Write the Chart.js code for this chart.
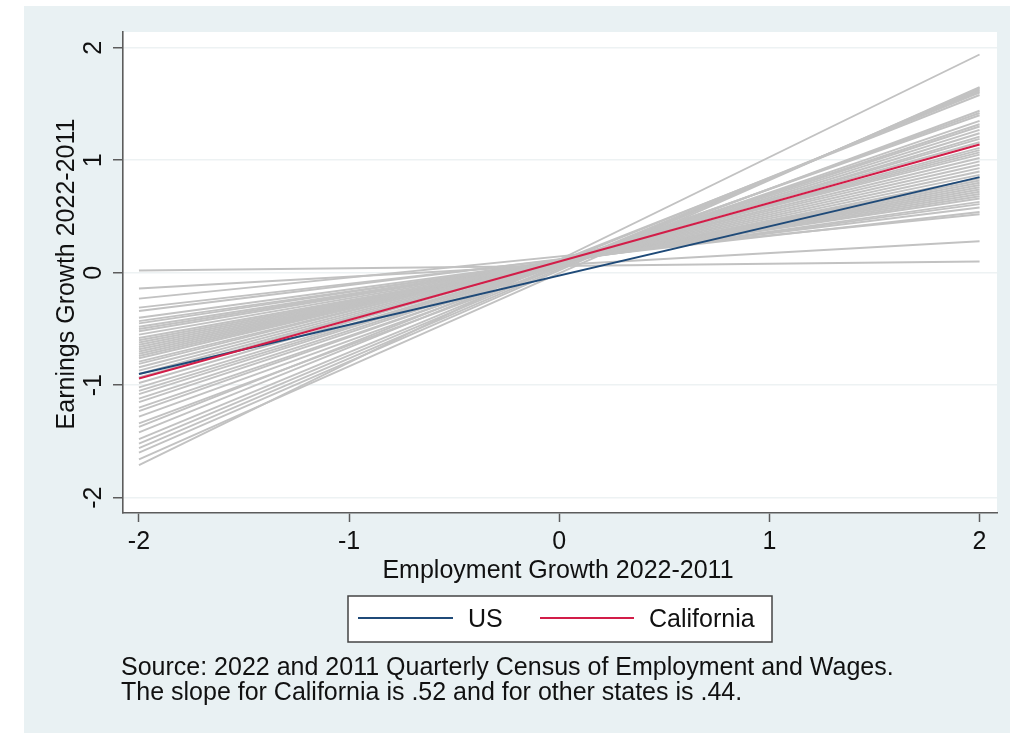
<!DOCTYPE html>
<html>
<head>
<meta charset="utf-8">
<script src="https://cdn.jsdelivr.net/npm/chart.js@4.4.1/dist/chart.umd.min.js"></script>
<style>
  html, body { margin: 0; padding: 0; background: #ffffff; }
  #wrap { width: 1010px; height: 733px; position: relative; }
</style>
</head>
<body>
<div id="wrap"><canvas id="chart" width="1010" height="733"></canvas></div>
<script>
// values: each state line from x=-2 to x=2
const xEnds = [-2, 2];
const stateLeft = [0.02, -0.14, -0.23, -0.31, -0.34, -0.40, -0.43, -0.45, -0.48, -0.50,
  -0.52, -0.55, -0.58, -0.60, -0.62, -0.64, -0.66, -0.68, -0.70, -0.72,
  -0.74, -0.76, -0.79, -0.81, -0.84, -0.87, -0.90, -0.93, -0.98, -1.02,
  -1.05, -1.08, -1.12, -1.15, -1.20, -1.23, -1.28, -1.34, -1.37, -1.42,
  -1.48, -1.52, -1.56, -1.60, -1.66, -1.71];
const stateRight = [0.10, 0.28, 0.52, 0.54, 0.58, 0.61, 0.63, 0.66, 0.68, 0.70,
  0.72, 0.74, 0.76, 0.78, 0.80, 0.82, 0.84, 0.87, 0.90, 0.93,
  0.96, 0.99, 1.02, 1.05, 1.07, 1.09, 1.11, 1.16, 1.19, 1.21,
  1.24, 1.27, 1.30, 1.32, 1.35, 1.40, 1.42, 1.44, 1.58, 1.60,
  1.61, 1.62, 1.63, 1.64, 1.65, 1.94];
const usEnds = [-0.90, 0.85];
const caEnds = [-0.94, 1.14];
const xTicks = [-2, -1, 0, 1, 2];
const yTicks = [-2, -1, 0, 1, 2];
const xTitle = "Employment Growth 2022-2011";
const yTitle = "Earnings Growth 2022-2011";
const noteLines = [
  "Source: 2022 and 2011 Quarterly Census of Employment and Wages.",
  "The slope for California is .52 and for other states is .44."
];

const PANEL = "#e9f1f3";
const INK = "#111111";
const AXIS = "#5c5c5c";
const FONT = '"Liberation Sans", Arial, sans-serif';
const FS = 25;

function pts(ends) {
  return xEnds.map((x, i) => ({ x: x, y: ends[i] }));
}

const datasets = [];
// lower order is drawn on top
datasets.push({ label: "US", data: pts(usEnds), borderColor: "#1f4a78", borderWidth: 2, showLine: true, pointRadius: 0, inLegend: true, order: 1 });
datasets.push({ label: "California", data: pts(caEnds), borderColor: "#d21d48", borderWidth: 2, showLine: true, pointRadius: 0, inLegend: true, order: 0 });
for (let i = 0; i < stateLeft.length; i++) {
  datasets.push({
    label: "state" + i,
    data: pts([stateLeft[i], stateRight[i]]),
    borderColor: "#c2c2c2",
    borderWidth: 1.9,
    showLine: true,
    pointRadius: 0,
    inLegend: false,
    order: 2
  });
}

function text(ctx, s, x, y, align, rot) {
  ctx.save();
  ctx.translate(x, y);
  if (rot) ctx.rotate(-Math.PI / 2);
  ctx.font = FS + "px " + FONT;
  ctx.fillStyle = INK;
  ctx.textAlign = align;
  ctx.textBaseline = "middle";
  ctx.fillText(s, 0, 0);
  ctx.restore();
}

const backdrop = {
  id: "backdrop",
  beforeDraw(chart) {
    const { ctx, chartArea: a } = chart;
    ctx.save();
    ctx.fillStyle = "#ffffff";
    ctx.fillRect(0, 0, chart.width, chart.height);
    ctx.fillStyle = PANEL;
    ctx.fillRect(24, 6, chart.width - 24, chart.height - 6);
    ctx.fillStyle = "#ffffff";
    ctx.fillRect(a.left, a.top, a.right - a.left, a.bottom - a.top);
    ctx.restore();
  }
};

const labels = {
  id: "labels",
  afterDraw(chart) {
    const ctx = chart.ctx;
    const xs = chart.scales.x, ys = chart.scales.y;
    xTicks.forEach(v => text(ctx, String(v), xs.getPixelForValue(v), 542, "center"));
    yTicks.forEach(v => text(ctx, String(v), 94, ys.getPixelForValue(v), "center", true));
    text(ctx, xTitle, 558, 571, "center");
    text(ctx, yTitle, 67, 274, "center", true);

    // legend box
    ctx.save();
    ctx.fillStyle = "#ffffff";
    ctx.fillRect(348, 596, 424, 46);
    ctx.strokeStyle = "#444444";
    ctx.lineWidth = 1.5;
    ctx.strokeRect(348, 596, 424, 46);
    const items = chart.data.datasets.filter(d => d.inLegend);
    const slots = [{ x1: 358, x2: 453, tx: 468 }, { x1: 540, x2: 634, tx: 649 }];
    items.forEach((d, i) => {
      const s = slots[i];
      ctx.strokeStyle = d.borderColor;
      ctx.lineWidth = 2;
      ctx.beginPath();
      ctx.moveTo(s.x1, 618);
      ctx.lineTo(s.x2, 618);
      ctx.stroke();
      text(ctx, d.label, s.tx, 620, "left");
    });
    ctx.restore();

    noteLines.forEach((s, i) => text(ctx, s, 121, 668 + i * 25, "left"));
  }
};

new Chart(document.getElementById("chart"), {
  type: "scatter",
  data: { datasets: datasets },
  plugins: [backdrop, labels],
  options: {
    responsive: false,
    animation: false,
    layout: { padding: { left: 0, top: 32, right: 13, bottom: 0 } },
    plugins: { legend: { display: false }, tooltip: { enabled: false } },
    scales: {
      x: {
        type: "linear",
        min: -2.076,
        max: 2.083,
        afterBuildTicks: s => { s.ticks = xTicks.map(v => ({ value: v })); },
        afterFit: s => { s.height = 220; },
        ticks: { display: false },
        grid: { drawOnChartArea: false, drawTicks: true, tickLength: 9, tickColor: AXIS, tickWidth: 1.5 },
        border: { display: true, color: AXIS, width: 1.6 }
      },
      y: {
        type: "linear",
        min: -2.136,
        max: 2.14,
        afterBuildTicks: s => { s.ticks = yTicks.map(v => ({ value: v })); },
        afterFit: s => { s.width = 123; },
        ticks: { display: false },
        grid: { color: "#edf2f3", lineWidth: 1.5, drawTicks: true, tickLength: 10, tickColor: AXIS, tickWidth: 1.5 },
        border: { display: true, color: AXIS, width: 1.6 }
      }
    }
  }
});
</script>
</body>
</html>
